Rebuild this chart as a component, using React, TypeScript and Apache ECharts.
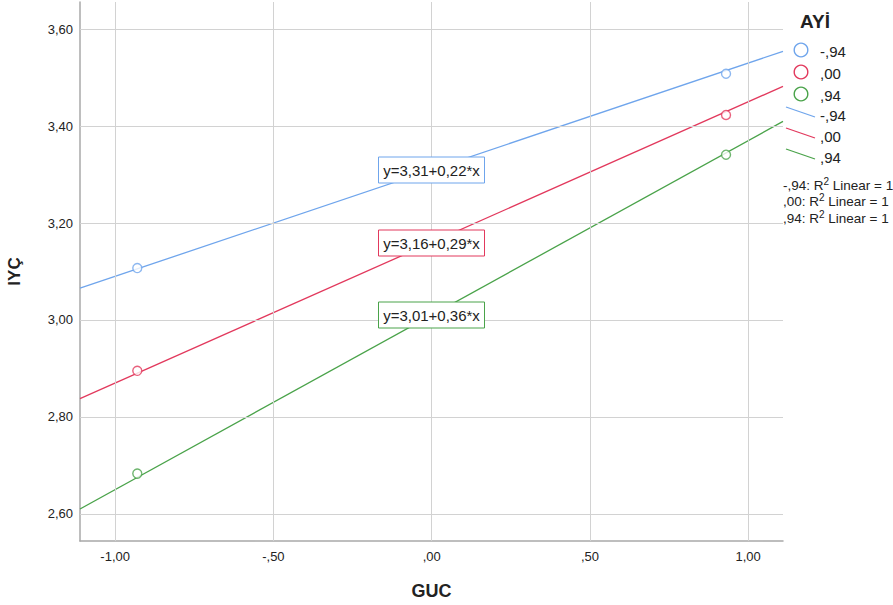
import React, { useEffect, useRef } from "react";
import * as echarts from "echarts";

const groups = ["-,94", ",00", ",94"];
const colors = ["#6fa5ec", "#e2395d", "#4aa34a"];
const gucValues = [-0.93, 0.93];
const iycSeries = [
  [3.107, 3.508],
  [2.895, 3.423],
  [2.683, 3.341],
];
const intercepts = [3.31, 3.16, 3.01];
const slopes = [0.22, 0.29, 0.36];
const equationLabels = ["y=3,31+0,22*x", "y=3,16+0,29*x", "y=3,01+0,36*x"];
const r2Prefixes = ["-,94: R", ",00: R", ",94: R"];
const r2Suffix = " Linear = 1";
const xTicks = [-1, -0.5, 0, 0.5, 1];
const yTicks = [2.6, 2.8, 3.0, 3.2, 3.4, 3.6];
const xMin = -1.111;
const xMax = 1.11;
const yMin = 2.544;
const yMax = 3.656;

const fmt = (v: number) => {
  let s = Math.abs(v).toFixed(2).replace(".", ",");
  if (s.startsWith("0")) s = s.slice(1);
  return (v < 0 ? "-" : "") + s;
};

const FONT = "Liberation Sans, Arial, sans-serif";

export default function App() {
  const ref = useRef<HTMLDivElement>(null);
  useEffect(() => {
    document.body.style.margin = "0";
    const chart = echarts.init(ref.current!, null, { renderer: "svg" });
    const gridColor = "#d2d2d2";
    const series: any[] = [
      {
        type: "line",
        data: [],
        z: 1,
        silent: true,
        markLine: {
          silent: true,
          symbol: ["none", "none"],
          label: { show: false },
          animation: false,
          lineStyle: { color: gridColor, width: 1, type: "solid" },
          data: [
            ...xTicks.map((v) => ({ xAxis: v })),
            ...yTicks.map((v) => ({ yAxis: v })),
          ],
        },
      },
    ];
    groups.forEach((g, i) => {
      series.push({
        type: "line",
        name: g + " fit",
        data: [
          [xMin, intercepts[i] + slopes[i] * xMin],
          [xMax, intercepts[i] + slopes[i] * xMax],
        ],
        showSymbol: false,
        symbol: "none",
        lineStyle: { color: colors[i], width: 1.3 },
        z: 3,
        silent: true,
      });
      series.push({
        type: "scatter",
        name: g,
        data: gucValues.map((x, j) => [x, iycSeries[i][j]]),
        symbol: "circle",
        symbolSize: 9,
        itemStyle: { color: "#ffffff", borderColor: colors[i], borderWidth: 1.4 },
        z: 4,
      });
    });

    const graphic: any[] = [];
    const boxTops = [157, 230, 302];
    equationLabels.forEach((t, i) => {
      graphic.push({
        type: "rect",
        shape: { x: 378.5, y: boxTops[i], width: 106, height: 26 },
        style: { fill: "#ffffff", stroke: colors[i], lineWidth: 1 },
        z: 100,
      });
      graphic.push({
        type: "text",
        x: 431.5,
        y: boxTops[i] + 13.5,
        style: {
          text: t,
          font: `15px ${FONT}`,
          fill: "#222222",
          align: "center",
          verticalAlign: "middle",
        },
        z: 101,
      });
    });
    // legend
    graphic.push({
      type: "text",
      x: 800,
      y: 21,
      style: { text: "AYİ", font: `bold 19px ${FONT}`, fill: "#222", verticalAlign: "middle" },
      z: 100,
    });
    const circleY = [50, 72, 94];
    const lineY = [107, 128, 149];
    const lineLabelY = [115, 136, 157];
    groups.forEach((g, i) => {
      graphic.push({
        type: "circle",
        shape: { cx: 801, cy: circleY[i], r: 6.8 },
        style: { fill: "#ffffff", stroke: colors[i], lineWidth: 1.4 },
        z: 100,
      });
      graphic.push({
        type: "text",
        x: 820,
        y: circleY[i] + 1,
        style: { text: g, font: `15px ${FONT}`, fill: "#222", verticalAlign: "middle" },
        z: 100,
      });
      graphic.push({
        type: "line",
        shape: { x1: 786, y1: lineY[i], x2: 815, y2: lineY[i] + 10 },
        style: { stroke: colors[i], lineWidth: 1.3 },
        z: 100,
      });
      graphic.push({
        type: "text",
        x: 820,
        y: lineLabelY[i],
        style: { text: g, font: `15px ${FONT}`, fill: "#222", verticalAlign: "middle" },
        z: 100,
      });
      graphic.push({
        type: "text",
        x: 783,
        y: 184 + i * 16.5,
        style: {
          text: `{a|${r2Prefixes[i]}}{s|2}{a|${r2Suffix}}`,
          verticalAlign: "middle",
          rich: {
            a: { fontSize: 13.5, fontFamily: FONT, fill: "#222", lineHeight: 16, verticalAlign: "bottom" },
            s: { fontSize: 10, fontFamily: FONT, fill: "#222", lineHeight: 16, verticalAlign: "top" },
          },
        },
        z: 100,
      });
    });

    chart.setOption({
      animation: false,
      backgroundColor: "#ffffff",
      textStyle: { fontFamily: FONT },
      grid: {
        left: 80,
        top: 2,
        right: 110,
        bottom: 64,
        containLabel: false,
        outerBoundsMode: "none",
      },
      xAxis: {
        type: "value",
        min: xMin,
        max: xMax,
        name: "GUC",
        nameLocation: "middle",
        nameGap: 41,
        nameTextStyle: { fontSize: 18, fontWeight: "bold", color: "#222", fontFamily: FONT },
        axisLine: { show: true, onZero: false, lineStyle: { color: "#a8a8a8", width: 1.5 } },
        axisTick: { show: false },
        splitLine: { show: false },
        axisLabel: {
          customValues: xTicks,
          formatter: (v: number) => fmt(v),
          fontSize: 13,
          color: "#222",
          margin: 9,
          fontFamily: FONT,
        },
      },
      yAxis: {
        type: "value",
        min: yMin,
        max: yMax,
        name: "IYÇ",
        nameLocation: "middle",
        nameGap: 57,
        nameRotate: 90,
        nameTextStyle: { fontSize: 17, fontWeight: "bold", color: "#222", fontFamily: FONT },
        axisLine: { show: true, onZero: false, lineStyle: { color: "#a8a8a8", width: 1.5 } },
        axisTick: { show: false },
        splitLine: { show: false },
        axisLabel: {
          customValues: yTicks,
          formatter: (v: number) => fmt(v),
          fontSize: 13,
          color: "#222",
          margin: 7,
          fontFamily: FONT,
        },
      },
      series,
      graphic,
    });
    return () => chart.dispose();
  }, []);
  return (
    <div
      ref={ref}
      style={{ position: "absolute", left: 0, top: 0, width: 893, height: 605 }}
    />
  );
}
